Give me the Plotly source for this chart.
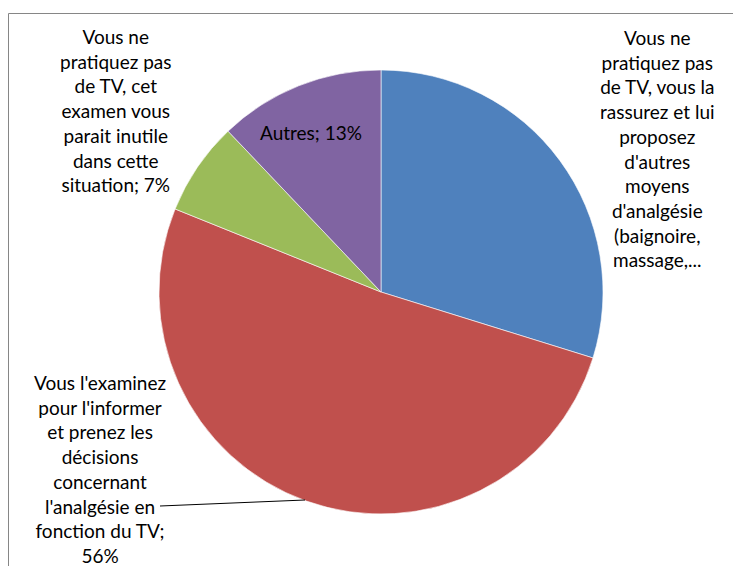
import plotly.graph_objects as go

# Slice data (clockwise from 12 o'clock)
categories = [
    "Vous ne pratiquez pas de TV, vous la rassurez et lui proposez d'autres moyens d'analgésie (baignoire, massage,...",
    "Vous l'examinez pour l'informer et prenez les décisions concernant l'analgésie en fonction du TV",
    "Vous ne pratiquez pas de TV, cet examen vous parait inutile dans cette situation",
    "Autres",
]
values = [29.8, 51.3, 6.8, 12.1]
colors = ["#4F81BD", "#C0504D", "#9BBB59", "#8064A2"]

# Data labels as they are shown (wrapped the same way as the original)
label_texts = [
    "Vous ne<br>pratiquez pas<br>de TV, vous la<br>rassurez et lui<br>proposez<br>d'autres<br>moyens<br>d'analgésie<br>(baignoire,<br>massage,...",
    "Vous l'examinez<br>pour l'informer<br>et prenez les<br>décisions<br>concernant<br>l'analgésie en<br>fonction du TV;<br>56%",
    "Vous ne<br>pratiquez pas<br>de TV, cet<br>examen vous<br>parait inutile<br>dans cette<br>situation; 7%",
    "Autres; 13%",
]
label_pos = [(657, 148), (100, 469), (116, 111), (311, 132)]

W, H = 741, 566
OFF = 8  # page body margin: the figure starts 8px in from the window corner
CX, CY, R = 381, 292, 222


def px_x(x):
    return (x - OFF) / W


def px_y(y):
    return 1 - (y - OFF) / H


fig = go.Figure(
    go.Pie(
        labels=categories,
        values=values,
        sort=False,
        direction="clockwise",
        rotation=0,
        marker=dict(colors=colors, line=dict(color="white", width=0.6)),
        textinfo="none",
        hoverinfo="label+percent",
        showlegend=False,
        domain=dict(
            x=[px_x(CX - R), px_x(CX + R)],
            y=[px_y(CY + R), px_y(CY - R)],
        ),
    )
)

for text, (x, y) in zip(label_texts, label_pos):
    fig.add_annotation(
        x=px_x(x), y=px_y(y), xref="paper", yref="paper",
        text=text, showarrow=False, align="center",
        xanchor="center", yanchor="middle",
        font=dict(family="Lato", size=19, color="#000000"),
    )

# leader line for the red slice label
fig.add_shape(
    type="line", xref="paper", yref="paper",
    x0=px_x(160), y0=px_y(506), x1=px_x(305), y1=px_y(500),
    line=dict(color="black", width=1),
)

# chart frame (cut off at right and bottom)
fig.add_shape(
    type="rect", xref="paper", yref="paper",
    x0=px_x(8.5), y0=px_y(H + 20), x1=px_x(W + 20), y1=px_y(13.5),
    line=dict(color="#868686", width=1),
)

fig.update_layout(
    width=W,
    height=H,
    margin=dict(l=0, r=0, t=0, b=0),
    paper_bgcolor="white",
    plot_bgcolor="white",
)

fig.write_html("out.html")
